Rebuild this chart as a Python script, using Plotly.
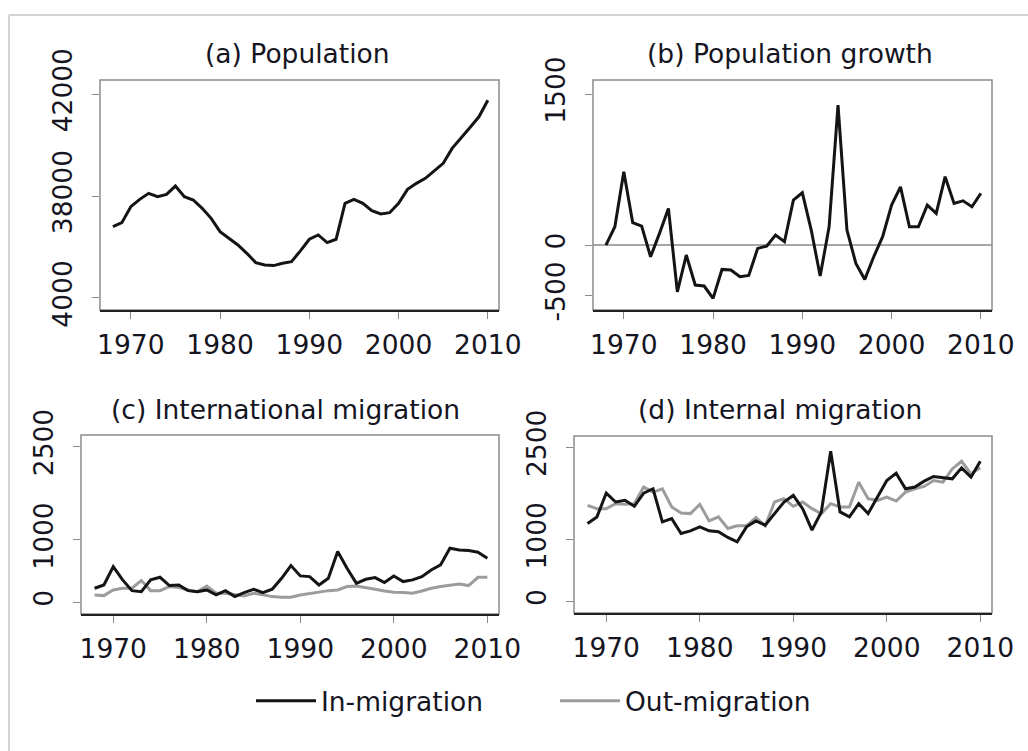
import plotly.graph_objects as go

years = list(range(1968, 2011))

population = [36797, 36954, 37582, 37869, 38105, 37974, 38065, 38392, 37974, 37843,
              37516, 37124, 36601, 36340, 36079, 35752, 35386, 35296, 35268, 35360,
              35425, 35844, 36302, 36471, 36170, 36302, 37713, 37869, 37713, 37425,
              37294, 37346, 37713, 38261, 38497, 38693, 38992, 39282, 39870, 40262,
              40693, 41109, 41763]

growth = [0, 182, 728, 222, 189, -116, 116, 364, -464, -99,
          -397, -407, -530, -242, -248, -315, -301, -33, -10, 99,
          33, 447, 520, 149, -308, 182, 1391, 149, -182, -341,
          -116, 83, 397, 579, 182, 182, 397, 315, 679, 414,
          440, 381, 513]

intl_in = [225, 278, 573, 359, 187, 171, 359, 401, 268, 278,
           187, 171, 198, 118, 187, 91, 155, 209, 155, 209,
           385, 589, 423, 412, 278, 385, 814, 546, 305, 369,
           396, 316, 423, 332, 359, 412, 519, 600, 867, 840,
           830, 803, 707]

intl_out = [118, 107, 198, 225, 225, 348, 187, 187, 252, 236,
            198, 171, 262, 145, 145, 128, 102, 145, 118, 91,
            80, 80, 118, 145, 161, 187, 198, 252, 262, 241,
            209, 182, 161, 155, 145, 182, 225, 252, 268, 294,
            268, 401, 401]

int_in = [1263, 1371, 1758, 1613, 1640, 1543, 1758, 1828, 1290, 1344,
          1102, 1145, 1210, 1145, 1129, 1038, 968, 1210, 1306, 1236,
          1425, 1613, 1720, 1505, 1156, 1452, 2435, 1452, 1371, 1586,
          1425, 1693, 1962, 2081, 1828, 1855, 1951, 2027, 2005, 1989,
          2167, 2016, 2274]

int_out = [1559, 1505, 1505, 1586, 1575, 1586, 1855, 1774, 1828, 1532,
           1435, 1425, 1575, 1306, 1371, 1183, 1226, 1226, 1360, 1226,
           1613, 1667, 1543, 1613, 1505, 1425, 1586, 1532, 1532, 1935,
           1667, 1640, 1693, 1629, 1774, 1828, 1866, 1962, 1935, 2150,
           2274, 2070, 2167]

titles = ["(a) Population", "(b) Population growth",
          "(c) International migration", "(d) Internal migration"]
x_ticks = [1970, 1980, 1990, 2000, 2010]
y_ticks_a = [34000, 38000, 42000]
y_ticklabels_a = ["4000", "38000", "42000"]
y_ticks_b = [-500, 0, 1500]
y_ticks_cd = [0, 1000, 2500]
legend_names = ["In-migration", "Out-migration"]

W, H = 1028, 751
BLACK = "#141414"
GREY = "#9c9c9c"
FONT = "DejaVu Sans"
TXT = "#15151f"
FS = 26.5

# pixel boxes (left, right, top, bottom)
boxes = {
    "a": (100, 499, 80, 310),
    "b": (593, 992, 80, 310),
    "c": (81, 499, 435, 614),
    "d": (574, 992, 436, 613),
}

def xd(l, r):
    return [l / W, r / W]

def yd(t, b):
    return [1 - b / H, 1 - t / H]

fig = go.Figure()

line_k = dict(color=BLACK, width=3)
line_g = dict(color=GREY, width=3)

fig.add_trace(go.Scatter(x=years, y=population, mode="lines", line=line_k,
                         xaxis="x", yaxis="y", showlegend=False))
fig.add_trace(go.Scatter(x=years, y=growth, mode="lines", line=line_k,
                         xaxis="x2", yaxis="y2", showlegend=False))
fig.add_trace(go.Scatter(x=years, y=intl_out, mode="lines", line=line_g,
                         xaxis="x3", yaxis="y3", showlegend=False))
fig.add_trace(go.Scatter(x=years, y=intl_in, mode="lines", line=line_k,
                         xaxis="x3", yaxis="y3", name=legend_names[0], showlegend=True))
fig.add_trace(go.Scatter(x=years, y=int_out, mode="lines", line=line_g,
                         xaxis="x4", yaxis="y4", name=legend_names[1], showlegend=True))
fig.add_trace(go.Scatter(x=years, y=int_in, mode="lines", line=line_k,
                         xaxis="x4", yaxis="y4", showlegend=False))

xrange_ = [1966.55, 2011.25]
yranges = {"a": [33525, 42555], "b": [-645, 1640], "c": [-188, 2684], "d": [-188, 2684]}
yticks = {"a": (y_ticks_a, y_ticklabels_a), "b": (y_ticks_b, [str(v) for v in y_ticks_b]),
          "c": (y_ticks_cd, [str(v) for v in y_ticks_cd]),
          "d": (y_ticks_cd, [str(v) for v in y_ticks_cd])}

layout = {}
for i, k in enumerate(["a", "b", "c", "d"]):
    l, r, t, b = boxes[k]
    sfx = "" if i == 0 else str(i + 1)
    layout["xaxis" + sfx] = dict(
        domain=xd(l, r), range=xrange_, anchor="y" + sfx, automargin=False,
        tickvals=x_ticks, ticks="outside", ticklen=7, tickcolor="#8a8a8a", tickwidth=1,
        showline=True, linecolor="#222222", linewidth=2, showgrid=False, zeroline=False,
        tickfont=dict(family=FONT, size=FS, color=TXT), ticklabelstandoff=3,
    )
    tv, tt = yticks[k]
    layout["yaxis" + sfx] = dict(
        domain=yd(t, b), range=yranges[k], anchor="x" + sfx, automargin=False,
        tickvals=tv, ticktext=tt, ticks="outside", ticklen=7, tickcolor="#8a8a8a", tickwidth=1,
        showline=False, showgrid=False, zeroline=False, tickangle=-90,
        tickfont=dict(family=FONT, size=FS, color=TXT), ticklabelstandoff=9,
    )

shapes = []
for i, k in enumerate(["a", "b", "c", "d"]):
    sfx = "" if i == 0 else str(i + 1)
    shapes.append(dict(type="rect", xref="x" + sfx + " domain", yref="y" + sfx + " domain",
                       x0=0, x1=1, y0=0, y1=1, line=dict(color="#8c8c8c", width=1.5),
                       layer="below"))
# zero line in panel b
shapes.append(dict(type="line", xref="x2 domain", yref="y2", x0=0, x1=1, y0=0, y1=0,
                   line=dict(color="#8a8a8a", width=1.5), layer="below"))
# page frame
shapes.append(dict(type="line", xref="paper", yref="paper", x0=9 / W, x1=1, y0=1 - 15 / H,
                   y1=1 - 15 / H, line=dict(color="#c4c4c4", width=1.5)))
shapes.append(dict(type="line", xref="paper", yref="paper", x0=9 / W, x1=9 / W, y0=0,
                   y1=1 - 15 / H, line=dict(color="#c4c4c4", width=1.5)))

title_pos = [(297, 53), (790, 53), (285, 409), (780, 409)]
annotations = []
for txt, (px, py) in zip(titles, title_pos):
    annotations.append(dict(text=txt, x=px / W, y=1 - py / H, xref="paper", yref="paper",
                            xanchor="center", yanchor="middle", showarrow=False,
                            font=dict(family=FONT, size=FS, color=TXT)))

fig.update_layout(
    template="none",
    width=W, height=H, margin=dict(l=0, r=0, t=0, b=0, autoexpand=False),
    paper_bgcolor="white", plot_bgcolor="white",
    font=dict(family=FONT, color=TXT),
    shapes=shapes, annotations=annotations,
    legend=dict(orientation="h", x=251 / W, xanchor="left", y=1 - 701 / H, yanchor="middle",
                font=dict(family=FONT, size=FS, color=TXT), itemwidth=60, entrywidth=229,
                entrywidthmode="pixels", bgcolor="rgba(0,0,0,0)"),
    **layout,
)

fig.write_html("out.html", config={"displayModeBar": False},
               post_script="document.body.style.margin='0px';")
